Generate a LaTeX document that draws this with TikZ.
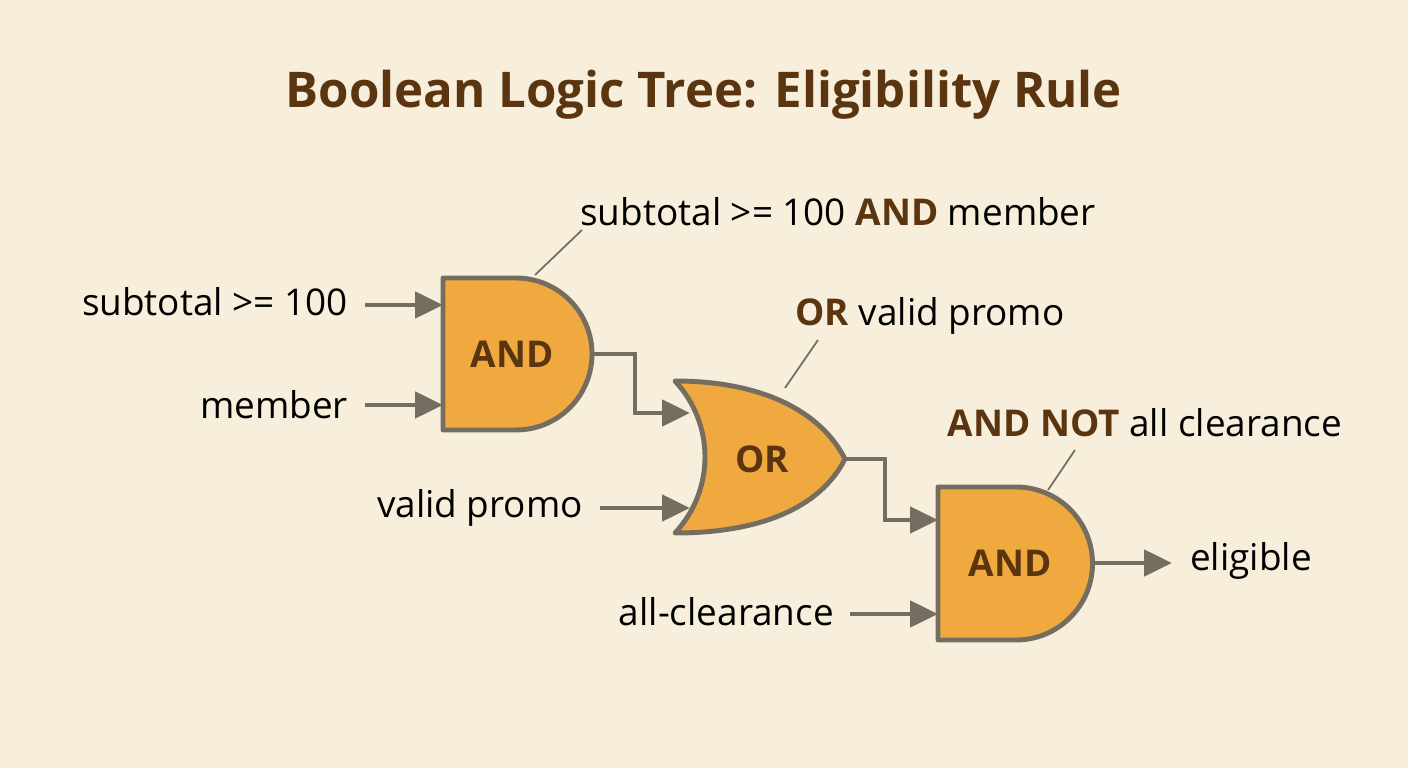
\documentclass[tikz,border=0pt]{standalone}
\usepackage{fontspec}
\setmainfont{Open Sans}
\usetikzlibrary{positioning,arrows.meta}
\definecolor{bgcol}{HTML}{F7EFDC}
\definecolor{gatefill}{HTML}{EFA93F}
\definecolor{wirecol}{HTML}{756D60}
\definecolor{brown}{HTML}{5A3510}
\tikzset{
  gate/.style={draw=wirecol,fill=gatefill,line width=1.4pt,line join=round},
  wire/.style={draw=wirecol,line width=1.4pt,-{Triangle[length=2.8mm,width=2.6mm]}},
  lead/.style={draw=wirecol,line width=0.5pt},
  lbl/.style={font=\fontsize{10.5}{12}\selectfont,text=black,inner sep=1pt},
  gname/.style={font=\fontsize{10.5}{12}\selectfont\bfseries,text=brown}
}
\begin{document}
\begin{tikzpicture}[x=0.1mm,y=-0.1mm]
  \fill[bgcol] (0,0) rectangle (1408,768);
  \useasboundingbox (0,0) rectangle (1408,768);

  \node[font=\fontsize{14}{17}\selectfont\bfseries,text=brown] (title) at (704,95) {Boolean Logic Tree: Eligibility Rule};

  % gates
  \draw[gate] (443,278) -- (516,278) arc[start angle=-90,end angle=90,radius=76] -- (443,430) -- cycle;
  \node[gname] (and1) at (512,354) {AND};
  \coordinate (and1in1) at (443,305);
  \coordinate (and1in2) at (443,405);
  \coordinate (and1out) at (592,354);

  \draw[gate] (675,381) .. controls (760,381) and (820,410) .. (845,459)
     .. controls (820,508) and (760,533) .. (675,533)
     .. controls (715,490) and (715,424) .. cycle;
  \node[gname] (or) at (762,459) {OR};
  \coordinate (orin1) at (690,413);
  \coordinate (orin2) at (690,508);
  \coordinate (orout) at (845,459);

  \draw[gate] (938,487) -- (1016,487) arc[start angle=-90,end angle=90,radius=76.5] -- (938,640) -- cycle;
  \node[gname] (and2) at (1010,563) {AND};
  \coordinate (and2in1) at (938,520);
  \coordinate (and2in2) at (938,614);
  \coordinate (and2out) at (1092,563);

  % inputs
  \node[lbl,anchor=east] (subtotal) at (352,302) {subtotal >= 100};
  \node[lbl,anchor=east] (member) at (352,405) {member};
  \node[lbl,anchor=east] (promo) at (587,508) {valid promo};
  \node[lbl,anchor=east] (clear) at (838,612) {all-clearance};
  \node[lbl,anchor=west] (elig) at (1186,561) {eligible};

  \draw[wire] (365,305) -- (and1in1);
  \draw[wire] (365,405) -- (and1in2);
  \draw[wire] (600,508) -- (orin2);
  \draw[wire] (850,614) -- (and2in2);
  \draw[wire] (and1out) -- (635,354) -- (635,413) -- (orin1);
  \draw[wire] (orout) -- (885,459) -- (885,520) -- (and2in1);
  \draw[wire] (and2out) -- (1172,563);

  % annotations
  \node[lbl] (n1) at (838,212) {subtotal >= 100 \textbf{\color{brown}AND} member};
  \node[lbl] (n2) at (930,316) {\textbf{\color{brown}OR} valid promo};
  \node[lbl] (n3) at (1145,423) {\textbf{\color{brown}AND NOT} all clearance};
  \draw[lead] (535,275) -- (582,230);
  \draw[lead] (785,388) -- (818,340);
  \draw[lead] (1048,490) -- (1075,450);
\end{tikzpicture}
\end{document}
